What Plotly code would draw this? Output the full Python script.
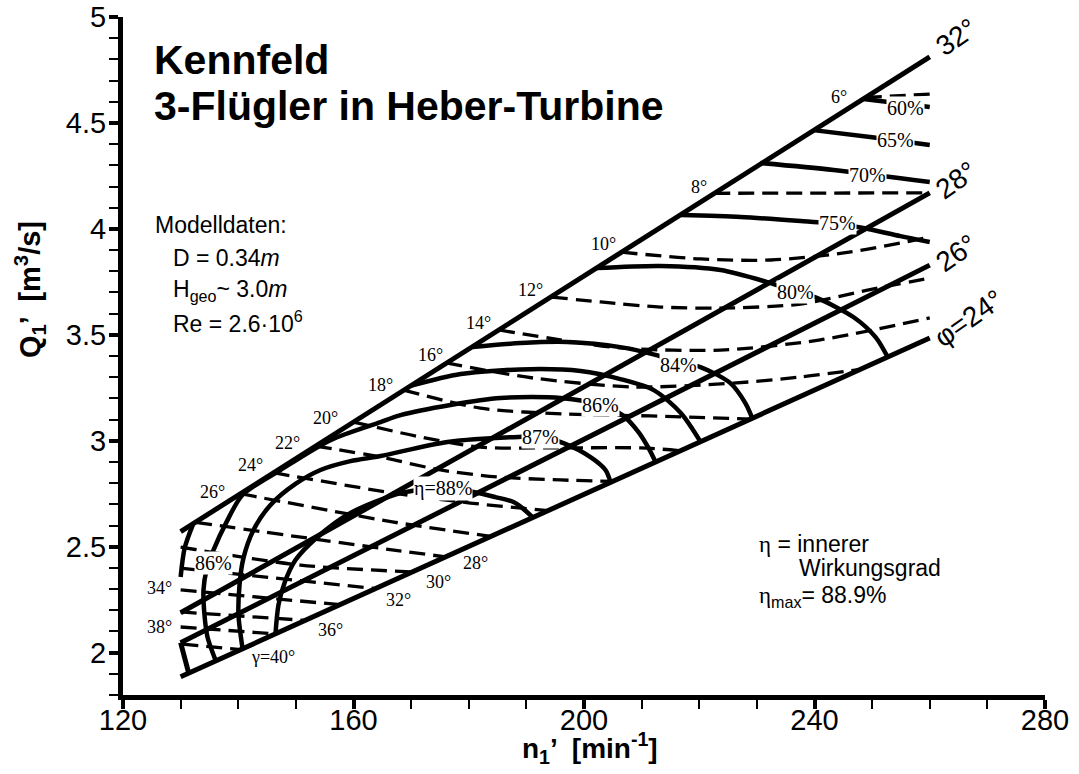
import plotly.graph_objects as go

# ---------------- data (n1' in min^-1, Q1' in m^3/s) ----------------
phi_n = [130, 260]
phi32_Q = [2.571, 4.812]
phi28_Q = [2.188, 4.170]
phi26_Q = [2.047, 3.829]
phi24_Q = [1.886, 3.485]
edge_n = [130, 131.4]
edge_Q = [2.047, 1.903]

# guide vane angle lines (dashed)
g06_n = [248.9, 260]; g06_Q = [4.620, 4.636]
g08_n = [222.6, 260]; g08_Q = [4.168, 4.170]
g10_n = [206.5, 220.2, 232.4, 246.3, 260]; g10_Q = [3.890, 3.858, 3.853, 3.891, 3.961]
g12_n = [194.4, 202.9, 213.3, 223.7, 237.6, 249.2, 260]; g12_Q = [3.678, 3.655, 3.631, 3.626, 3.645, 3.711, 3.768]
g14_n = [185.2, 195.9, 206.3, 223.7, 241.0, 260]; g14_Q = [3.523, 3.476, 3.438, 3.428, 3.476, 3.580]
g16_n = [176.1, 191.2, 208.6, 225.9, 237.6, 248.0]; g16_Q = [3.367, 3.296, 3.254, 3.272, 3.301, 3.337]
g18_n = [168.7, 182.0, 197.1, 211.5, 228.9]; g18_Q = [3.239, 3.154, 3.126, 3.117, 3.102]
g20_n = [160.0, 171.6, 182.0, 193.7, 209.8, 216.8]; g20_Q = [3.088, 3.018, 2.970, 2.966, 2.966, 2.953]
g22_n = [153.4, 164.7, 175.1, 185.0, 195.9, 205.0]; g22_Q = [2.975, 2.923, 2.862, 2.829, 2.815, 2.808]
g24_n = [146.1, 167.0, 180.3, 193.7]; g24_Q = [2.849, 2.753, 2.706, 2.670]
g26_n = [140.4, 167.0, 183.8]; g26_Q = [2.750, 2.616, 2.549]
g28_n = [132.6, 167.0, 176.0]; g28_Q = [2.615, 2.484, 2.452]
g30_n = [130, 150.8, 170.2]; g30_Q = [2.498, 2.413, 2.381]
g32_n = [130, 163.8]; g32_Q = [2.399, 2.302]
g34_n = [130, 157.7]; g34_Q = [2.296, 2.226]
g36_n = [130, 151.7]; g36_Q = [2.192, 2.152]
g38_n = [130, 146.5]; g38_Q = [2.121, 2.088]
g40_n = [130.3, 140.4]; g40_Q = [2.040, 2.014]

# efficiency contours (solid)
e60_n = [248.5, 260]; e60_Q = [4.613, 4.575]
e65_n = [239.8, 250.0, 260]; e65_Q = [4.466, 4.432, 4.396]
e70_n = [230.6, 243.3, 260]; e70_Q = [4.311, 4.278, 4.221]
e75_n = [216.8, 227.2, 237.6, 244.0, 248.5, 254.9, 260]; e75_Q = [4.065, 4.056, 4.037, 4.023, 4.004, 3.966, 3.938]
e80_n = [202.2, 213.3, 223.7, 231.8, 236.7, 240.5, 246.8, 250.6, 252.7]
e80_Q = [3.815, 3.825, 3.806, 3.749, 3.706, 3.673, 3.583, 3.489, 3.395]
e84_n = [180.7, 189.0, 197.1, 206.3, 212.4, 216.4, 220.2, 225.4, 228.0, 229.2]
e84_Q = [3.442, 3.461, 3.466, 3.442, 3.405, 3.371, 3.348, 3.272, 3.178, 3.107]
e85a_n = [169.9, 178.6, 190.7, 199.4, 206.3, 212.1, 216.8, 220.2]
e85a_Q = [3.259, 3.315, 3.338, 3.329, 3.291, 3.239, 3.131, 2.996]
e85b_n = [132.2, 130.7, 130.0]
e85b_Q = [2.609, 2.494, 2.357]
e86_n = [136.05, 134.66, 134.14, 133.97, 134.49, 135.70, 137.96, 140.73, 147.33, 156.01,
         164.69, 168.16, 176.83, 185.51, 195.92, 202.86, 206.68, 209.46, 211.19, 212.41]
e86_Q = [1.965, 2.074, 2.178, 2.296, 2.390, 2.484, 2.616, 2.744, 2.862, 3.003,
         3.088, 3.121, 3.169, 3.202, 3.202, 3.169, 3.121, 3.041, 2.966, 2.900]
e87_n = [140.73, 140.04, 140.22, 140.91, 142.65, 145.60, 149.93, 154.27, 159.48, 164.69,
         176.31, 188.63, 192.45, 196.44, 201.13, 203.73, 204.60]
e87_Q = [2.022, 2.178, 2.319, 2.447, 2.579, 2.697, 2.796, 2.862, 2.904, 2.928,
         2.994, 3.018, 3.018, 2.989, 2.923, 2.862, 2.805]
e88_n = [146.46, 146.98, 148.03, 149.93, 153.75, 159.48, 168.16, 175.62, 180.82, 184.64, 187.77, 189.33, 191.24]
e88_Q = [2.088, 2.225, 2.329, 2.437, 2.546, 2.659, 2.753, 2.777, 2.758, 2.734, 2.711, 2.682, 2.635]

# labels
pct_text = ["60%", "65%", "70%", "75%", "80%", "84%", "86%", "87%", "\u03b7=88%", "86%"]
pct_n = [255.8, 254.1, 249.2, 244.0, 236.7, 216.4, 202.9, 192.5, 175.6, 135.7]
pct_Q = [4.571, 4.419, 4.254, 4.027, 3.702, 3.357, 3.169, 3.018, 2.777, 2.423]

deg_text = ["6°", "8°", "10°", "12°", "14°", "16°", "18°", "20°", "22°", "24°", "26°",
            "34°", "38°", "28°", "30°", "32°", "36°", "\u03b3=40°"]
deg_n = [244.2, 219.9, 203.4, 190.7, 181.7, 173.4, 164.7, 155.1, 148.6, 142.1, 135.6,
         126.4, 126.4, 181.2, 174.8, 167.8, 156.0, 146.1]
deg_Q = [4.622, 4.197, 3.928, 3.711, 3.556, 3.405, 3.263, 3.107, 2.989, 2.885, 2.758,
         2.305, 2.121, 2.423, 2.333, 2.248, 2.107, 1.979]

phi_text = ["32°", "28°", "26°", "\u03c6=24°"]
phi_lab_n = [264.5, 264.5, 264.5, 266.7]
phi_lab_Q = [4.905, 4.228, 3.886, 3.579]

x_ticks = [120, 160, 200, 240, 280]
y_ticks = [2, 2.5, 3, 3.5, 4, 4.5, 5]
y_ticktext = ["2", "2.5", "3", "3.5", "4", "4.5", "5"]

# ---------------- figure ----------------
W, H = 1079, 774
ML, MR, MT, MB = 123, 34, 17, 79
PW, PH = W - ML - MR, H - MT - MB


def pxx(x):
    return (x - ML) / PW


def pyy(y):
    return (H - MB - y) / PH


SANS = "Liberation Sans, Arial, sans-serif"
SERIF = "Liberation Serif, Times New Roman, serif"

fig = go.Figure()


def add_line(n, q, width, dash=None, shape="spline"):
    fig.add_trace(go.Scatter(
        x=n, y=q, mode="lines",
        line=dict(color="black", width=width, dash=dash, shape=shape, smoothing=0.8),
        hoverinfo="skip", showlegend=False))


DASH = "16px,8px"
for n, q in [(g06_n, g06_Q), (g08_n, g08_Q), (g10_n, g10_Q), (g12_n, g12_Q), (g14_n, g14_Q),
             (g16_n, g16_Q), (g18_n, g18_Q), (g20_n, g20_Q), (g22_n, g22_Q), (g24_n, g24_Q),
             (g26_n, g26_Q), (g28_n, g28_Q), (g30_n, g30_Q), (g32_n, g32_Q), (g34_n, g34_Q),
             (g36_n, g36_Q), (g38_n, g38_Q), (g40_n, g40_Q)]:
    add_line(n, q, 3.3, DASH)

for q in [phi32_Q, phi28_Q, phi26_Q, phi24_Q]:
    add_line(phi_n, q, 5, None, "linear")
add_line(edge_n, edge_Q, 5, None, "linear")

for n, q in [(e60_n, e60_Q), (e65_n, e65_Q), (e70_n, e70_Q), (e75_n, e75_Q), (e80_n, e80_Q),
             (e84_n, e84_Q), (e85a_n, e85a_Q), (e85b_n, e85b_Q), (e86_n, e86_Q),
             (e87_n, e87_Q), (e88_n, e88_Q)]:
    add_line(n, q, 4.5)

ann = []
for t, n, q in zip(pct_text, pct_n, pct_Q):
    ann.append(dict(x=n, y=q, xref="x", yref="y", text=t, showarrow=False,
                    font=dict(family=SERIF, size=20, color="black"),
                    bgcolor="white", borderpad=0))
for t, n, q in zip(deg_text, deg_n, deg_Q):
    ann.append(dict(x=n, y=q, xref="x", yref="y", text=t, showarrow=False,
                    font=dict(family=SERIF, size=18, color="black")))
for t, n, q in zip(phi_text, phi_lab_n, phi_lab_Q):
    ann.append(dict(x=n, y=q, xref="x", yref="y", text=t, showarrow=False, textangle=-35,
                    font=dict(family=SANS, size=28, color="black")))

# title & text blocks
ann.append(dict(x=pxx(152), y=pyy(60), xref="paper", yref="paper", xanchor="left", yanchor="middle",
                text="<b>Kennfeld</b>", showarrow=False, font=dict(family=SANS, size=41, color="black")))
ann.append(dict(x=pxx(152), y=pyy(106), xref="paper", yref="paper", xanchor="left", yanchor="middle",
                text="<b>3-Flügler in Heber-Turbine</b>", showarrow=False,
                font=dict(family=SANS, size=41, color="black")))
model_lines = ["Modelldaten:", "D = 0.34<i>m</i>", "H<sub>geo</sub>~ 3.0<i>m</i>", "Re = 2.6·10<sup>6</sup>"]
model_x = [153, 171, 171, 171]
model_y = [225, 258, 290, 322]
for t, x, y in zip(model_lines, model_x, model_y):
    ann.append(dict(x=pxx(x), y=pyy(y), xref="paper", yref="paper", xanchor="left", yanchor="middle",
                    text=t, showarrow=False, font=dict(family=SANS, size=23, color="black")))
eta_lines = ["<span style='font-family:Liberation Serif'>\u03b7</span> = innerer", "Wirkungsgrad",
             "<span style='font-family:Liberation Serif'>\u03b7</span><sub>max</sub>= 88.9%"]
eta_x = [757, 797, 757]
eta_y = [544, 568, 596]
for t, x, y in zip(eta_lines, eta_x, eta_y):
    ann.append(dict(x=pxx(x), y=pyy(y), xref="paper", yref="paper", xanchor="left", yanchor="middle",
                    text=t, showarrow=False, font=dict(family=SANS, size=23, color="black")))

# axis titles
ann.append(dict(x=pxx(590), y=pyy(748), xref="paper", yref="paper", xanchor="center", yanchor="middle",
                text="<b>n<sub>1</sub>’  [min<sup>-1</sup>]</b>", showarrow=False,
                font=dict(family=SANS, size=28, color="black")))
ann.append(dict(x=pxx(30), y=pyy(290), xref="paper", yref="paper", xanchor="center", yanchor="middle",
                text="<b>Q<sub>1</sub>’  [m<sup>3</sup>/s]</b>", showarrow=False, textangle=-90,
                font=dict(family=SANS, size=29, color="black")))

axis_common = dict(showline=True, linewidth=5, linecolor="black", showgrid=False, zeroline=False,
                   ticks="outside", ticklen=9, tickwidth=4, tickcolor="black", automargin=False,
                   tickfont=dict(family=SANS, size=29, color="black"))

fig.update_layout(
    width=W, height=H, margin=dict(l=ML, r=MR, t=MT, b=MB),
    plot_bgcolor="white", paper_bgcolor="white", showlegend=False,
    xaxis=dict(range=[120, 280], tickvals=x_ticks, ticklabelstandoff=-14,
               minor=dict(dtick=10, tick0=120, ticks="outside", ticklen=9, tickwidth=1.5, tickcolor="black"),
               **axis_common),
    yaxis=dict(range=[1.8, 5.0], tickvals=y_ticks, ticktext=y_ticktext, ticklabelstandoff=-3,
               minor=dict(dtick=0.1, tick0=1.8, ticks="outside", ticklen=9, tickwidth=1.5, tickcolor="black"),
               **axis_common),
    annotations=ann,
)

fig.write_html("out.html")
